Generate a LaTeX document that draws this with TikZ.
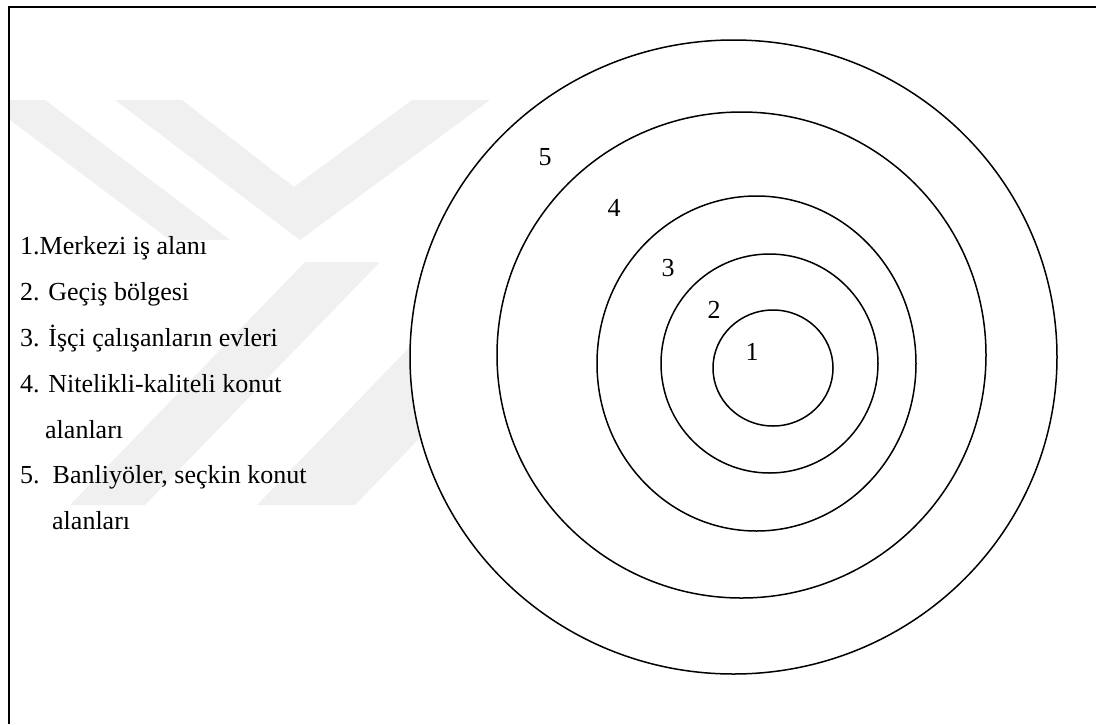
\documentclass[tikz,border=0pt]{standalone}
\usepackage{fontspec}
\setmainfont{Liberation Serif}
\begin{document}
\begin{tikzpicture}[x=1pt,y=-1pt,
  ring/.style={draw=black,line width=1.5pt},
  wm/.style={fill=black!6,draw=none},
  item/.style={anchor=base west,inner sep=0pt,font=\fontsize{26}{30}\selectfont},
  num/.style={inner sep=0pt,font=\fontsize{26}{30}\selectfont}]
\useasboundingbox (0,0) rectangle (1096,724);
% watermark
\fill[wm] (115,100) -- (182,100) -- (294,187) -- (412,100) -- (490,100) -- (300,240) -- cycle;
\fill[wm] (10,100) -- (45,100) -- (230,240) -- (170,240) -- (10,120) -- cycle;
\fill[wm] (70,505) -- (145,505) -- (380,262) -- (305,262) -- cycle;
\fill[wm] (257,505) -- (355,505) -- (590,262) -- (492,262) -- cycle;
% frame
\draw[line width=2.2pt] (9,724) -- (9,7) -- (1096,7);
% rings
\draw[ring,fill=white] (733.5,357) ellipse [x radius=323.5, y radius=317];
\draw[ring] (741.5,355) ellipse [x radius=244.5, y radius=243];
\draw[ring] (756.5,363.5) ellipse [x radius=159.5, y radius=167.5];
\draw[ring] (769.5,363.5) ellipse [x radius=108.5, y radius=109.5];
\draw[ring] (773,368) ellipse [x radius=60, y radius=58];
% ring labels
\node[num] (n5) at (545,157) {5};
\node[num] (n4) at (614,208) {4};
\node[num] (n3) at (668,268) {3};
\node[num] (n2) at (714,310) {2};
\node[num] (n1) at (752,352) {1};
% legend
\node[item] (l1) at (20,254) {1.Merkezi iş alanı};
\node[item] (l2) at (20,300) {2. Geçiş bölgesi};
\node[item] (l3) at (20,346) {3. İşçi çalışanların evleri};
\node[item] (l4) at (20,392) {4. Nitelikli-kaliteli konut};
\node[item] (l4b) at (45,438) {alanları};
\node[item] (l5) at (20,483) {5.\ \ Banliyöler, seçkin konut};
\node[item] (l5b) at (52,529) {alanları};
\end{tikzpicture}
\end{document}
